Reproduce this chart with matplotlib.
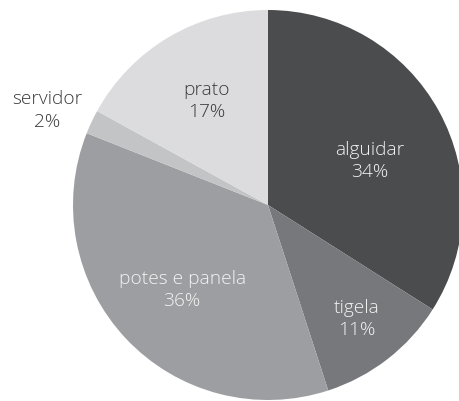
import numpy as np
import matplotlib.pyplot as plt

# --- Data ---
labels = ['alguidar', 'tigela', 'potes e panela', 'servidor', 'prato']
shares = [34, 11, 36, 2, 17]
colors = ['#4b4c4e', '#77787b', '#9d9ea1', '#c3c4c6', '#dcdcde']
label_radius = [0.57, 0.74, 0.62, 1.23, 0.62]
label_shift = [-5.5, 0, 1.5, 2, 0]  # degrees
label_color = ['#f4f4f4', '#f4f4f4', '#f4f4f4', '#3a3a3a', '#3a3a3a']

plt.rcParams['font.family'] = ['Open Sans', 'DejaVu Sans']

W, H = 460, 401
CX, CY, R = 268, 205, 195

fig = plt.figure(figsize=(W / 100, H / 100), dpi=100)
ax = fig.add_axes([(CX - R) / W, (H - CY - R) / H, 2 * R / W, 2 * R / H])
ax.set_axis_off()

wedges, _ = ax.pie(shares, colors=colors, startangle=90, counterclock=False,
                   radius=1, wedgeprops=dict(linewidth=0))
ax.set_xlim(-1, 1)
ax.set_ylim(-1, 1)

for w, lab, val, rr, sh, tc in zip(wedges, labels, shares, label_radius,
                                   label_shift, label_color):
    ang = np.deg2rad((w.theta1 + w.theta2) / 2 + sh)
    ax.text(rr * np.cos(ang), rr * np.sin(ang), f'{lab}\n{val}%',
            ha='center', va='center', color=tc, fontsize=13.8,
            fontweight='light', linespacing=1.3, clip_on=False)

fig.savefig('out.png', dpi=100)
